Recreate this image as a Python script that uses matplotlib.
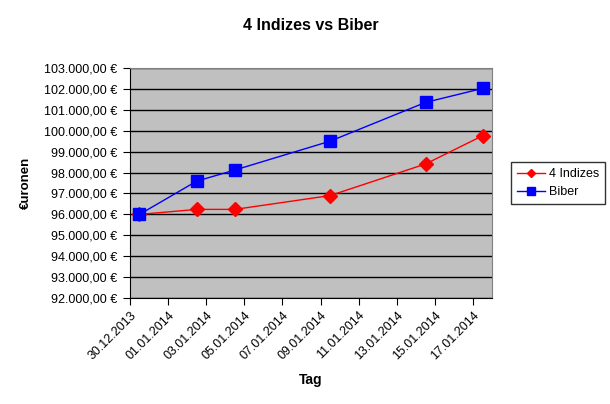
import datetime as dt
import matplotlib
matplotlib.use("Agg")
import matplotlib.pyplot as plt
import matplotlib.dates as mdates
from matplotlib.ticker import FuncFormatter, MultipleLocator

plt.rcParams['font.family'] = ['Liberation Sans', 'DejaVu Sans']

# Daten
tage = ["30.12.2013", "02.01.2014", "04.01.2014", "09.01.2014", "14.01.2014", "17.01.2014"]
indizes = [96000, 96240, 96240, 96900, 98410, 99760]
biber = [96000, 97590, 98120, 99500, 101350, 102020]

# Punkte liegen in der Tagesmitte (wie bei Excel)
x = [dt.datetime.strptime(t, "%d.%m.%Y") + dt.timedelta(hours=12) for t in tage]

fig = plt.figure(figsize=(6.10, 4.04), dpi=100)
ax = fig.add_axes([0.213, 0.262, 0.594, 0.570])
ax.set_facecolor("#c0c0c0")

ax.plot(x, indizes, color="#ff0000", marker="D", markersize=7, linewidth=1, label="4 Indizes")
ax.plot(x, biber, color="#0000ff", marker="s", markersize=9, linewidth=1, label="Biber")

ax.set_ylim(92000, 103000)
ax.yaxis.set_major_locator(MultipleLocator(1000))
ax.yaxis.set_major_formatter(FuncFormatter(
    lambda v, p: "{:,.2f} €".format(v).replace(",", "X").replace(".", ",").replace("X", ".")))
ax.grid(axis="y", color="black", linewidth=1)
ax.set_axisbelow(True)

ax.set_xlim(dt.datetime(2013, 12, 30), dt.datetime(2014, 1, 18))
ax.xaxis.set_major_locator(mdates.DayLocator(bymonthday=[1, 3, 5, 7, 9, 11, 13, 15, 17, 30]))
ax.xaxis.set_major_formatter(mdates.DateFormatter("%d.%m.%Y"))
plt.setp(ax.get_xticklabels(), rotation=45, ha="right", rotation_mode="anchor")

ax.tick_params(axis="both", direction="out", length=5, labelsize=9, color="black")
ax.tick_params(axis="x", pad=3)
ax.tick_params(axis="y", pad=4)
for s in ["top", "right"]:
    ax.spines[s].set_color("#808080")
for s in ["left", "bottom"]:
    ax.spines[s].set_color("black")

ax.set_title("4 Indizes vs Biber", fontsize=11.5, fontweight="bold", pad=27)
ax.set_xlabel("Tag", fontsize=10, fontweight="bold", labelpad=8)
ax.set_ylabel("€uronen", fontsize=9.5, fontweight="bold", labelpad=9)

leg = ax.legend(loc="center left", bbox_to_anchor=(1.035, 0.5), fontsize=9,
                frameon=True, fancybox=False, edgecolor="black", handlelength=2.2,
                handletextpad=0.3, markerscale=0.6, borderpad=0.5, labelspacing=0.5)
leg.get_frame().set_linewidth(1)

fig.savefig("out.png", dpi=100, facecolor="white")
